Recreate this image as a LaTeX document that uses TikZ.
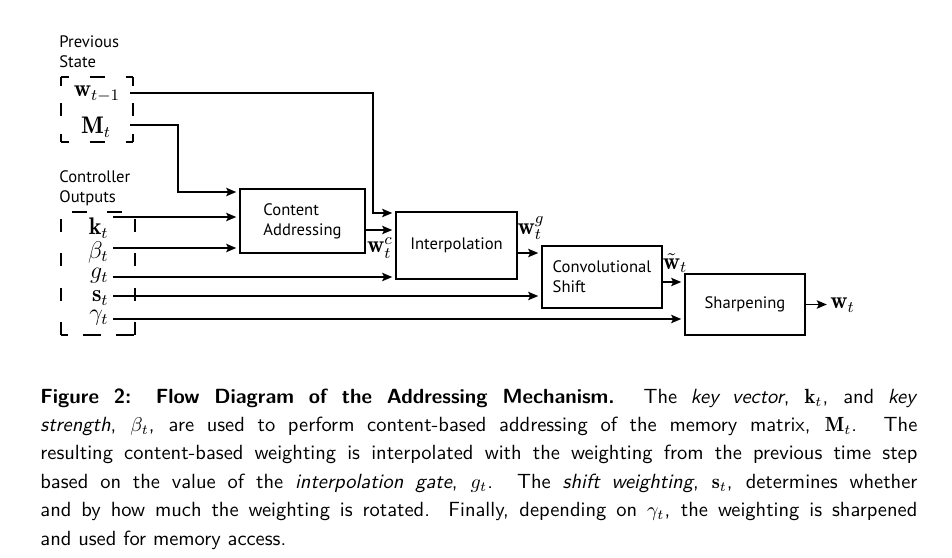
\documentclass[tikz,border=0pt]{standalone}
\usepackage{fontspec}
\newfontfamily\diagfont{PT Sans}
\usetikzlibrary{arrows.meta}

\begin{document}
\begin{tikzpicture}[x=0.5pt, y=-0.5pt,
    flow/.style={line width=0.6pt, -{Stealth[length=5pt,width=4.2pt,inset=1pt]}, shorten >=1.6pt},
    block/.style={draw, line width=0.6pt, align=left, font=\diagfont\fontsize{8.3}{10}\selectfont},
    txt/.style={inner sep=0pt, align=left, font=\diagfont\fontsize{8.3}{10}\selectfont},
    mathlbl/.style={inner sep=0pt, font=\fontsize{12}{14}\selectfont},
    edge/.style={line width=0.6pt},
    caption/.style={anchor=north west, inner sep=0pt, text width=438.5pt, align=justify, font=\sffamily\fontsize{10.25}{14.2}\selectfont}]
    \useasboundingbox (0,0) rectangle (952,557);

    % Previous state
    \node[txt, anchor=north west] (prevtxt) at (59,35) {Previous\\State};
    \draw[edge, dash pattern=on 7.5pt off 10.5pt, dash phase=3.75pt] (61,77) -- (133,77);
    \draw[edge, dash pattern=on 7.5pt off 10.5pt, dash phase=3.75pt] (61,142) -- (133,142);
    \draw[edge, dash pattern=on 6.5pt off 8.75pt, dash phase=2.25pt] (61,77) -- (61,142);
    \draw[edge, dash pattern=on 6.5pt off 8.75pt, dash phase=2.25pt] (133,77) -- (133,142);
    \node[mathlbl] (wprev) at (97,94) {$\mathbf{w}_{t-1}$};
    \node[mathlbl] (mem) at (96,127) {$\mathbf{M}_t$};

    % Controller outputs
    \node[txt, anchor=north west] (ctrltxt) at (59,170) {Controller\\Outputs};
    \draw[edge, dash pattern=on 7.5pt off 10pt, dash phase=12pt] (61,212) -- (135,212);
    \draw[edge, dash pattern=on 9pt off 7.5pt, dash phase=5.5pt] (61,335) -- (135,335);
    \draw[edge, dash pattern=on 6.5pt off 10.7pt, dash phase=13.7pt] (61,212) -- (61,335);
    \draw[edge, dash pattern=on 6.5pt off 10.7pt, dash phase=13.7pt] (135,212) -- (135,335);

    % Blocks
    \node[block, minimum width=62.5pt, minimum height=32pt] (content) at (302.5,221) {Content\\Addressing};
    \node[block, minimum width=60.5pt, minimum height=33.5pt] (interp) at (456.5,245.5) {Interpolation};
    \node[block, minimum width=60pt, minimum height=31pt] (conv) at (602,277) {Convolutional\\Shift};
    \node[block, minimum width=60pt, minimum height=30.5pt] (sharp) at (745,304.5) {Sharpening};

    % Inputs
    \coordinate (wsrc) at (130,93);
    \coordinate (wbend) at (373,213);
    \coordinate (msrc) at (130,125);
    \coordinate (mbend) at (178,192);
    \draw[flow] (wsrc) -| (wbend) -- (wbend -| interp.west);
    \draw[flow] (msrc) -| (mbend) -- (mbend -| content.west);
    \foreach \nm/\lbl/\ly/\y/\dest in {k/\mathbf{k}_t/228/217/content, b/\beta_t/252/248/content,
        g/g_t/276/277/interp, s/\mathbf{s}_t/298/296/conv, c/\gamma_t/318/319/sharp} {
        \node[mathlbl, anchor=east] (\nm) at (109,\ly) {$\lbl$};
        \coordinate (\nm src) at (113,\y);
        \draw[flow] (\nm src) -- (\nm src -| \dest.west);
    }

    % Connections
    \coordinate (wcsrc) at ([yshift=-4.5pt]content.east);
    \coordinate (wgsrc) at ([yshift=-3.75pt]interp.east);
    \coordinate (wtsrc) at ([yshift=-2.5pt]conv.east);
    \draw[flow] (wcsrc) -- (wcsrc -| interp.west);
    \draw[flow] (wgsrc) -- (wgsrc -| conv.west);
    \draw[flow] (wtsrc) -- (wtsrc -| sharp.west);
    \node[mathlbl] (wc) at (380,248) {$\mathbf{w}_t^c$};
    \node[mathlbl] (wg) at (531,228) {$\mathbf{w}_t^g$};
    \node[mathlbl] (wtl) at (675,263) {$\tilde{\mathbf{w}}_t$};
    \node[mathlbl, anchor=west] (wout) at (830,305) {$\mathbf{w}_t$};
    \draw[flow] (sharp.east) -- (sharp.east -| wout.west);

    % Caption
    \node[caption] (cap) at (40,388) {\textbf{Figure 2: Flow Diagram of the Addressing Mechanism.} The \textit{key vector}, $\mathbf{k}_t$, and \textit{key}\linebreak
    \textit{strength}, $\beta_t$, are used to perform content-based addressing of the memory matrix, $\mathbf{M}_t$. The\linebreak
    resulting content-based weighting is interpolated with the weighting from the previous time step\linebreak
    based on the value of the \textit{interpolation gate}, $g_t$. The \textit{shift weighting}, $\mathbf{s}_t$, determines whether\linebreak
    and by how much the weighting is rotated. Finally, depending on $\gamma_t$, the weighting is sharpened\linebreak
    and used for memory access.};
\end{tikzpicture}
\end{document}
